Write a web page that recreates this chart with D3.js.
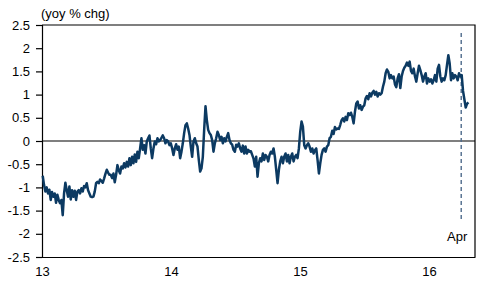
<!DOCTYPE html>
<html><head><meta charset="utf-8">
<script src="https://cdn.jsdelivr.net/npm/d3@7"></script>
<style>
body{margin:0;background:#fff}
svg{display:block}
text{font-family:Arial,"Liberation Sans",sans-serif;font-size:13px;fill:#000}
</style>
</head><body><svg id="c" width="490" height="288"></svg>
<script>
// ---- data ----
const seriesStart = "2013-01-03";
const stepDays = 3.775;
const values = [
-0.75,-0.95,-1.09,-1.0,-1.13,-1.05,-1.27,-1.1,-1.2,-1.13,
-1.33,-1.16,-1.27,-1.34,-1.27,-1.6,-1.13,-0.9,-1.06,-1.2,
-0.98,-1.26,-1.06,-1.2,-1.07,-1.27,-1.09,-1.06,-1.13,-1.02,
-1.09,-0.97,-1.0,-0.91,-1.06,-1.13,-1.2,-1.21,-1.2,-1.09,
-0.91,-0.88,-0.91,-0.83,-0.86,-0.9,-0.81,-0.71,-0.62,-0.68,
-0.73,
-0.73,-0.8,-0.7,-0.89,-0.73,-0.52,-0.63,-0.7,-0.55,-0.59,
-0.48,-0.57,-0.45,-0.55,-0.37,-0.52,-0.34,-0.48,-0.29,-0.45,
-0.23,-0.37,-0.16,0.06,-0.19,-0.09,-0.27,-0.01,0.06,0.12,
-0.16,-0.37,-0.16,-0.01,-0.07,0.06,-0.01,0.02,0.07,0.12,
0.06,-0.05,0.02,-0.01,-0.09,-0.05,-0.16,-0.3,-0.16,-0.07,
-0.19,-0.12,-0.37,-0.23,
-0.05,0.17,0.34,0.38,0.27,0.13,-0.12,-0.34,-0.01,0.06,
-0.05,-0.12,-0.41,-0.66,-0.59,-0.34,0.24,0.75,0.45,0.24,
0.17,0.13,0.02,-0.23,-0.05,0.06,0.2,0.13,0.02,0.09,
-0.05,0.06,-0.01,0.09,0.17,0.02,-0.05,-0.08,-0.19,-0.23,
-0.08,-0.12,-0.05,-0.16,-0.23,-0.1,-0.27,-0.12,-0.27,-0.19,
-0.23,
-0.22,-0.3,-0.38,-0.55,-0.34,-0.77,-0.48,-0.37,-0.44,-0.27,
-0.41,-0.3,-0.34,-0.44,-0.3,-0.23,-0.27,-0.16,-0.34,-0.62,
-0.91,-0.62,-0.44,-0.34,-0.48,-0.34,-0.27,-0.44,-0.3,-0.48,
-0.34,-0.27,-0.44,-0.34,-0.3,-0.37,-0.16,0.2,0.42,0.31,
-0.09,-0.16,-0.09,-0.05,-0.12,-0.23,-0.16,-0.27,-0.2,-0.16,
-0.41,-0.7,-0.48,-0.3,-0.19,-0.16,-0.23,-0.12,-0.09,0.06,
0.09,0.22,0.15,0.3,0.25,0.27,0.26,0.35,
0.45,0.49,0.42,0.52,0.45,0.6,0.56,0.61,0.52,0.38,
0.63,0.81,0.85,0.7,0.77,0.67,0.74,0.77,0.92,0.97,
0.9,1.03,0.96,1.04,1.08,1.0,1.06,0.96,1.03,1.0,
1.03,1.17,1.28,1.46,1.54,1.49,1.35,1.42,1.35,1.39,
1.22,1.16,1.35,1.44,1.14,1.39,1.51,
1.58,1.62,1.69,1.62,1.71,1.51,1.46,1.56,1.39,1.28,
1.46,1.62,1.53,1.42,1.28,1.39,1.46,1.24,1.35,1.28,
1.33,1.24,1.31,1.42,1.28,1.56,1.64,1.39,1.28,1.35,
1.31,1.42,1.64,1.85,1.67,1.31,1.46,1.35,1.42,1.39,
1.31,1.46,1.39,1.42,1.08,0.9,0.72,0.8,0.83
];
const yTicks = [2.5,2,1.5,1,0.5,0,-0.5,-1,-1.5,-2,-2.5];
const yTickLabels = ["2.5","2","1.5","1","0.5","0","-0.5","-1","-1.5","-2","-2.5"];
const xTickDates = ["2013-01-01","2014-01-01","2015-01-01","2016-01-01"];
const xTickLabels = ["13","14","15","16"];
const xDomain = ["2013-01-01","2016-05-10"];
const markerDate = "2016-04-01";
const markerLabel = "Apr";
const unitLabel = "(yoy % chg)";

// ---- layout ----
const L = 42, R = 475, T = 25, B = 257;
const parse = d3.utcParse("%Y-%m-%d");
const t0 = parse(seriesStart);
const data = values.map((v, i) => ({ d: new Date(t0.getTime() + i * stepDays * 864e5), v }));

const x = d3.scaleUtc().domain(xDomain.map(parse)).range([L, R]);
const y = d3.scaleLinear().domain([-2.5, 2.5]).range([B, T]);

const svg = d3.select("#c");

// frame top and right
svg.append("path").attr("d", `M${L},${T}H${R}V${B}`).attr("fill", "none").attr("stroke", "#000").attr("stroke-width", 1.2);

// zero line
svg.append("line").attr("x1", L).attr("x2", R).attr("y1", y(0)).attr("y2", y(0))
  .attr("stroke", "#000").attr("stroke-width", 1.2);

// y axis
const yAxis = d3.axisLeft(y).tickValues(yTicks).tickSize(6).tickPadding(6)
  .tickFormat((d, i) => yTickLabels[i]);
const gy = svg.append("g").attr("transform", `translate(${L},0)`).call(yAxis);
gy.select(".domain").attr("stroke", "#000").attr("stroke-width", 1.2);
gy.selectAll(".tick line").attr("stroke", "#000").attr("stroke-width", 1.2);
gy.selectAll("text").attr("font-size", 13).attr("font-family", "Arial,'Liberation Sans',sans-serif").attr("fill", "#000");

// x axis
const xAxis = d3.axisBottom(x).tickValues(xTickDates.map(parse)).tickSize(0).tickPadding(10)
  .tickFormat((d, i) => xTickLabels[i]);
const gx = svg.append("g").attr("transform", `translate(0,${B})`).call(xAxis);
gx.select(".domain").attr("stroke", "#000").attr("stroke-width", 1.2);
gx.selectAll("text").attr("font-size", 13).attr("font-family", "Arial,'Liberation Sans',sans-serif").attr("fill", "#000");

// marker line
const mx = x(parse(markerDate));
svg.append("line").attr("x1", mx).attr("x2", mx).attr("y1", 33).attr("y2", 219)
  .attr("stroke", "#4f6b8c").attr("stroke-width", 1.4).attr("stroke-dasharray", "4,3");
svg.append("text").attr("x", mx - 4).attr("y", 241).attr("text-anchor", "middle").text(markerLabel);

// series
svg.append("path").datum(data)
  .attr("d", d3.line().x(d => x(d.d)).y(d => y(d.v)))
  .attr("fill", "none").attr("stroke", "#0c3a62").attr("stroke-width", 2.5)
  .attr("stroke-linejoin", "round");

// unit label
svg.append("text").attr("x", 41).attr("y", 18).text(unitLabel);
</script>
</body></html>
